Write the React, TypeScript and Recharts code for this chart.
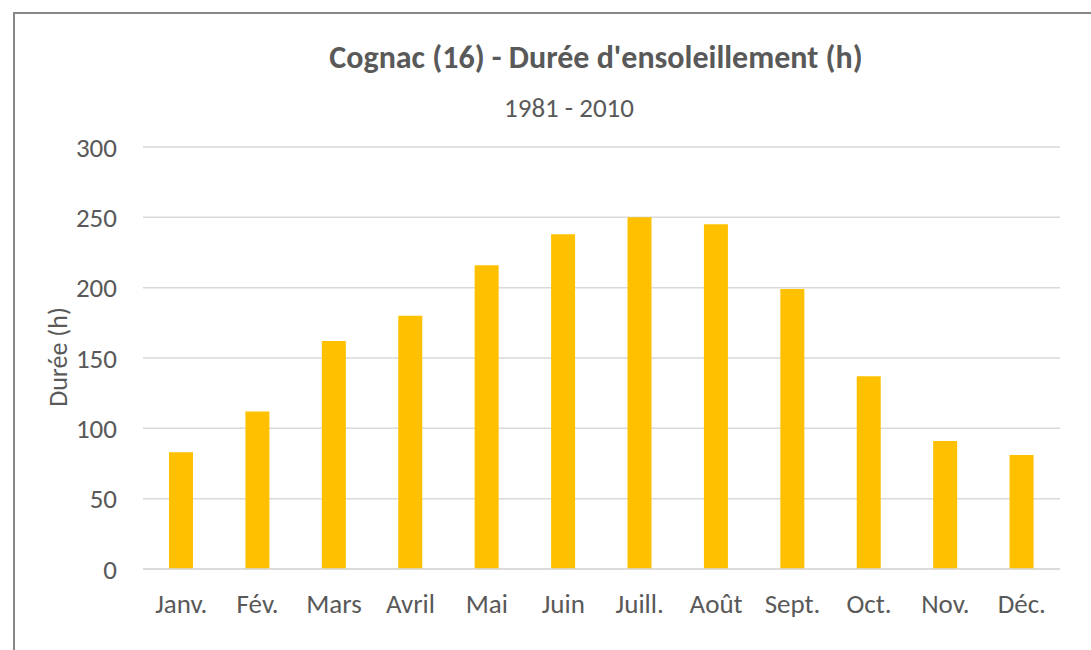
import { BarChart, Bar, XAxis, YAxis, CartesianGrid } from 'recharts'

const months = ['Janv.', 'Fév.', 'Mars', 'Avril', 'Mai', 'Juin', 'Juill.', 'Août', 'Sept.', 'Oct.', 'Nov.', 'Déc.']
const sunshine = [83, 112, 162, 180, 216, 238, 250, 245, 199, 137, 91, 81]
const yTicks = [0, 50, 100, 150, 200, 250, 300]

const FONT = "Carlito, Calibri, 'Open Sans', sans-serif"
const TEXT = '#595959'

export default function App() {
  const data = months.map((m, i) => ({ month: m, value: sunshine[i] }))

  return (
    <div
      style={{
        position: 'absolute',
        left: 0,
        top: 0,
        width: 1091,
        height: 650,
        overflow: 'hidden',
        background: '#fff',
        fontFamily: FONT,
      }}
    >
      {/* cadre du graphique */}
      <div
        style={{
          position: 'absolute',
          left: 13,
          top: 12,
          width: 1300,
          height: 900,
          border: '2px solid #878787',
          boxSizing: 'border-box',
        }}
      />
      <div
        style={{
          position: 'absolute',
          left: 0,
          width: 1192,
          top: 38,
          textAlign: 'center',
          fontWeight: 700,
          fontSize: 32,
          color: TEXT,
          lineHeight: '40px',
          whiteSpace: 'nowrap',
        }}
      >
        Cognac (16) - Durée d'ensoleillement (h)
      </div>
      <div
        style={{
          position: 'absolute',
          left: 0,
          width: 1138,
          top: 93,
          textAlign: 'center',
          fontSize: 27,
          color: TEXT,
          lineHeight: '30px',
        }}
      >
        1981 - 2010
      </div>
      <div
        style={{
          position: 'absolute',
          left: 58,
          top: 357,
          transform: 'translate(-50%, -50%) rotate(-90deg)',
          fontSize: 26,
          lineHeight: '30px',
          color: TEXT,
          whiteSpace: 'nowrap',
        }}
      >
        Durée (h)
      </div>
      <div style={{ position: 'absolute', left: 0, top: 0 }}>
        <BarChart
          width={1091}
          height={650}
          data={data}
          margin={{ top: 147, right: 31, bottom: 0, left: 0 }}
        >
          <CartesianGrid vertical={false} stroke="#d9d9d9" strokeWidth={1.5} />
          <XAxis
            dataKey="month"
            height={81}
            tickLine={false}
            tickSize={0}
            tickMargin={25}
            axisLine={{ stroke: '#d9d9d9', strokeWidth: 1.5 }}
            tick={{ fill: TEXT, fontSize: 27, fontFamily: FONT }}
            interval={0}
          />
          <YAxis
            width={143}
            domain={[0, 300]}
            ticks={yTicks}
            tickLine={false}
            axisLine={false}
            tickSize={0}
            tickMargin={26}
            tick={{ fill: TEXT, fontSize: 27, fontFamily: FONT }}
          />
          <Bar dataKey="value" fill="#FFC000" barSize={24} isAnimationActive={false} />
        </BarChart>
      </div>
    </div>
  )
}
